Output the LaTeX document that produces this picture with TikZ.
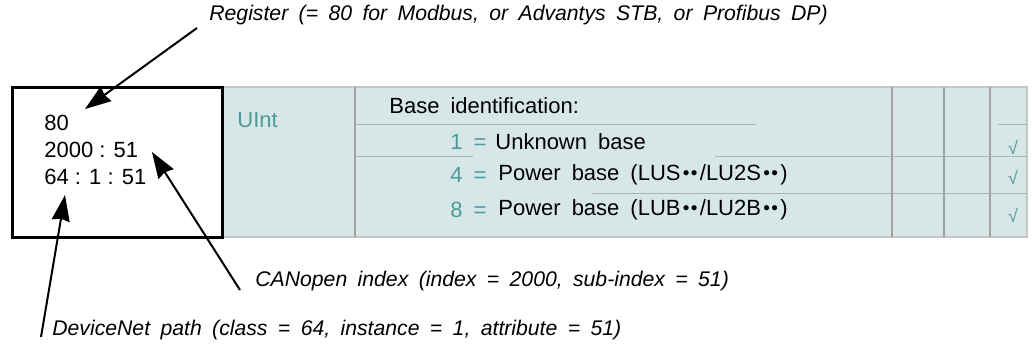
\documentclass[tikz,border=0pt]{standalone}
\usepackage{fontspec}
\setmainfont{Liberation Sans}
\usetikzlibrary{positioning,arrows.meta}
\definecolor{tabfill}{HTML}{D7E7E7}
\definecolor{tabteal}{HTML}{4E9A9A}
\definecolor{tabrule}{HTML}{A4B6B6}
\definecolor{tabgrid}{HTML}{A0A0A0}
\newcommand{\bul}{{\fontsize{9.5}{9.5}\selectfont\kern1.2pt\raisebox{0.8pt}{•\kern0.6pt•}\kern1.2pt}}
\newcommand{\tabsp}{\spaceskip=5.5pt plus 1pt\relax}
\newcommand{\lblsp}{\spaceskip=5.2pt plus 1pt\relax}

\begin{document}
\begin{tikzpicture}[x=0.5pt, y=-0.5pt,
  font=\fontsize{11}{13}\selectfont, >=Stealth,
  val/.style={anchor=west, inner sep=0pt},
  txt/.style={val, execute at begin node=\tabsp},
  num/.style={txt, text=tabteal},
  chk/.style={text=tabteal, inner sep=0pt, font=\fontsize{9}{9}\selectfont},
  lbl/.style={anchor=west, inner sep=0pt, font=\fontsize{10.6}{12}\selectfont\itshape, execute at begin node=\lblsp},
  arr/.style={-{Stealth[length=13pt, width=9pt, inset=1pt]}, line width=1pt},
  grid/.style={draw=tabgrid, line width=1pt},
  rule/.style={draw=tabrule, line width=0.5pt}]
  \useasboundingbox (0,0) rectangle (1032,345);
  \node[fill=tabfill, draw=tabgrid!60, line width=1pt, inner sep=0pt,
    minimum width=402.5pt, minimum height=75pt] (band) at (624.5,162) {};
  \node[draw, line width=1.5pt, fill=white, inner sep=0pt,
    minimum width=105pt, minimum height=75pt] (addr) at (117,162) {};
  \foreach \x in {355,892,944,990}
    \draw[grid] (\x,87) -- (\x,237);
  \draw[rule] (355,124) -- (756,124) (998,124) -- (1027,124);
  \draw[rule] (355,156) -- (473,156) (715,156) -- (1027,156);
  \draw[rule] (592,193) -- (1027,193);

  \node[val] (v80) at (44,123) {80};
  \node[val] (vcan) at (44,150) {2000 : 51};
  \node[val] (vdn) at (44,177) {64 : 1 : 51};
  \node[num] (type) at (237,120) {UInt};
  \node[txt] (head) at (389,106) {Base identification:};
  \node[num] (eq1) at (450,142) {1 =};
  \node[txt] (row1) at (495,142) {Unknown base};
  \node[num] (eq4) at (450,175) {4 =};
  \node[txt] (row4) at (498,175) {Power base (LUS\bul/LU2S\bul)};
  \node[num] (eq8) at (450,210) {8 =};
  \node[txt] (row8) at (498,210) {Power base (LUB\bul/LU2B\bul)};
  \node[chk] (ck1) at (1013,147) {√};
  \node[chk] (ck4) at (1013,177) {√};
  \node[chk] (ck8) at (1013,215) {√};

  \node[lbl] (reglbl) at (209,15) {Register (= 80 for Modbus, or Advantys STB, or Profibus DP)};
  \node[lbl] (canlbl) at (255,281) {CANopen index (index = 2000, sub-index = 51)};
  \node[lbl] (dnlbl) at (52,330) {DeviceNet path (class = 64, instance = 1, attribute = 51)};

  \coordinate (regtail) at (197,28);
  \coordinate (regtip) at (85,109);
  \coordinate (cantail) at (240,290);
  \coordinate (cantip) at (152,152);
  \coordinate (dntail) at (41,337);
  \coordinate (dntip) at (65,195);
  \draw[arr] (regtail) -- (regtip);
  \draw[arr] (cantail) -- (cantip);
  \draw[arr] (dntail) -- (dntip);
\end{tikzpicture}
\end{document}
